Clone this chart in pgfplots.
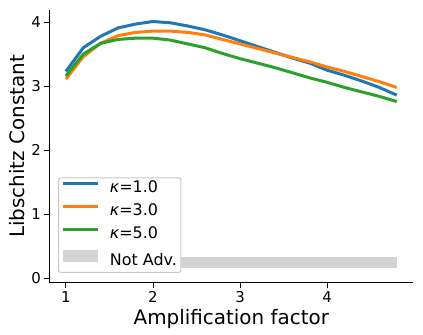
\documentclass[border=0pt]{standalone}
\usepackage{fontspec}
\setmainfont{DejaVu Sans}
\usepackage{pgfplots}
\pgfplotsset{compat=1.18}

\definecolor{mblue}{HTML}{1F77B4}
\definecolor{morange}{HTML}{FF7F0E}
\definecolor{mgreen}{HTML}{2CA02C}
\definecolor{mgray}{HTML}{D3D3D3}
\definecolor{mframe}{HTML}{C8C8C8}

\begin{document}
\begin{tikzpicture}
\useasboundingbox (-49.3bp,-52.3bp) rectangle (373.7bp,282.7bp);
\begin{axis}[
    scale only axis,
    width=364bp,
    height=272.7bp,
    xmin=0.81, xmax=4.99,
    ymin=-0.07, ymax=4.19,
    axis x line*=bottom,
    axis y line*=left,
    axis line style={line width=0.8bp},
    xtick={1,2,3,4},
    ytick={0,1,2,3,4},
    tick align=outside,
    major tick length=5bp,
    tick style={black, line width=0.8bp},
    /pgf/number format/assume math mode=true,
    ticklabel style={font=\fontsize{15}{18}\selectfont},
    xlabel={Amplification factor},
    ylabel={Libschitz Constant},
    label style={font=\fontsize{20}{24}\selectfont},
    legend style={
        at={(0.024,0.036)}, anchor=south west,
        font=\fontsize{16}{18}\selectfont,
        draw=mframe, line width=1bp, fill=white,
        rounded corners=2bp,
        inner xsep=3bp, inner ysep=3bp,
        row sep=7bp,
        /tikz/every odd column/.append style={column sep=10bp},
        nodes={inner sep=1bp, text height=11bp, text depth=3bp},
    },
    legend image code/.code={
        \draw[#1, sharp corners, line width=2.4bp] (0bp,5.5bp) -- (35bp,5.5bp);
    },
    legend cell align=left,
]
\addplot[mblue, line width=3bp] coordinates {
(1.0,3.23) (1.2,3.60) (1.4,3.78) (1.6,3.91) (1.8,3.97) (2.0,4.01) (2.2,3.99)
(2.4,3.94) (2.6,3.88) (2.8,3.80) (3.0,3.71) (3.2,3.62) (3.4,3.53) (3.6,3.44)
(3.8,3.36) (4.0,3.25) (4.2,3.17) (4.4,3.08) (4.6,2.98) (4.8,2.86)
};
\addlegendentry{\textit{κ}=1.0}
\addplot[morange, line width=3bp] coordinates {
(1.0,3.11) (1.2,3.46) (1.4,3.67) (1.6,3.79) (1.8,3.84) (2.0,3.86) (2.2,3.86)
(2.4,3.84) (2.6,3.80) (2.8,3.73) (3.0,3.66) (3.2,3.59) (3.4,3.52) (3.6,3.45)
(3.8,3.38) (4.0,3.30) (4.2,3.23) (4.4,3.15) (4.6,3.07) (4.8,2.98)
};
\addlegendentry{\textit{κ}=3.0}
\addplot[mgreen, line width=3bp] coordinates {
(1.0,3.16) (1.2,3.50) (1.4,3.67) (1.6,3.73) (1.8,3.75) (2.0,3.75) (2.2,3.72)
(2.4,3.66) (2.6,3.60) (2.8,3.51) (3.0,3.43) (3.2,3.36) (3.4,3.29) (3.6,3.21)
(3.8,3.13) (4.0,3.06) (4.2,2.98) (4.4,2.91) (4.6,2.84) (4.8,2.76)
};
\addlegendentry{\textit{κ}=5.0}
\addplot[fill=mgray, draw=none,
    legend image code/.code={\fill[mgray, sharp corners] (0bp,-0.5bp) rectangle (35bp,11.5bp);}]
    coordinates {
(1.0,0.16) (4.8,0.16) (4.8,0.33) (1.0,0.33) (1.0,0.16)
};
\addlegendentry{Not Adv.}
\end{axis}
\end{tikzpicture}
\end{document}
